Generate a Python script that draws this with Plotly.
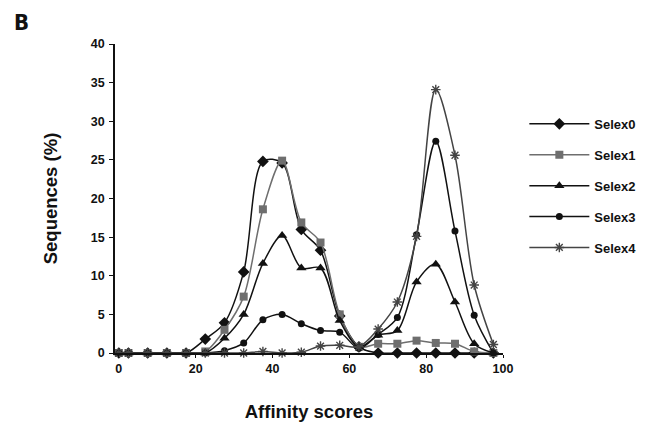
import plotly.graph_objects as go

scores = [0, 2.5, 7.5, 12.5, 17.5, 22.5, 27.5, 32.5, 37.5, 42.5, 47.5, 52.5, 57.5, 62.5, 67.5, 72.5, 77.5, 82.5, 87.5, 92.5, 97.5]
selex0 = [0, 0, 0, 0, 0, 1.8, 3.9, 10.5, 24.8, 24.6, 16.0, 13.3, 4.8, 0.8, 0, 0, 0, 0, 0, 0, 0]
selex1 = [0, 0, 0, 0, 0, 0.2, 3.0, 7.3, 18.6, 24.9, 16.9, 14.3, 5.0, 0.8, 1.2, 1.2, 1.6, 1.3, 1.2, 0.2, 0]
selex2 = [0, 0, 0, 0, 0, 0, 1.9, 5.0, 11.6, 15.2, 11.0, 11.0, 4.2, 0.8, 2.3, 2.9, 9.2, 11.5, 6.6, 1.2, 0]
selex3 = [0, 0, 0, 0, 0, 0, 0.3, 1.3, 4.3, 5.0, 3.8, 2.9, 2.7, 0.6, 2.4, 4.6, 15.3, 27.4, 15.8, 4.9, 0]
selex4 = [0, 0, 0, 0, 0, 0, 0, 0, 0.2, 0, 0.1, 0.9, 1.0, 0.8, 3.1, 6.6, 15.1, 34.1, 25.6, 8.8, 1.1]

x_ticks = [0, 20, 40, 60, 80, 100]
y_ticks = [0, 5, 10, 15, 20, 25, 30, 35, 40]

names = ["Selex0", "Selex1", "Selex2", "Selex3", "Selex4"]
series = [selex0, selex1, selex2, selex3, selex4]
symbols = ["diamond", "square", "triangle-up", "circle", "asterisk-open"]
sizes = [9, 8, 9, 7, 8]
colors = ["#111111", "#6e6e6e", "#111111", "#111111", "#444444"]

FONT = "Liberation Sans, Arial, Helvetica, sans-serif"

fig = go.Figure()
for i, (n, s) in enumerate(zip(names, series)):
    fig.add_trace(go.Scatter(
        x=scores, y=s, name="<b>" + n + "</b>", mode="lines+markers",
        line=dict(color=colors[i], width=1.5, shape="spline", smoothing=0.9),
        marker=dict(symbol=symbols[i], size=sizes[i], color=colors[i],
                    line=dict(color=colors[i], width=1.4 if i == 4 else 0)),
        cliponaxis=False, legendgroup=n,
    ))

fig.update_layout(
    width=646, height=423,
    margin=dict(l=115, r=143, t=44, b=70, autoexpand=False),
    plot_bgcolor="white", paper_bgcolor="white",
    font=dict(family=FONT, size=12, color="#111111"),
    showlegend=True,
    legend=dict(x=1.055, y=0.79, xanchor="left", yanchor="top",
                font=dict(family=FONT, size=13, color="#111111"),
                tracegroupgap=11, itemwidth=60, bgcolor="rgba(0,0,0,0)"),
    xaxis=dict(range=[-1, 100], tickvals=x_ticks, ticktext=["<b>%d</b>" % v for v in x_ticks],
               showgrid=False, zeroline=False, automargin=False,
               showline=True, linecolor="#111111", linewidth=1.5, ticks="outside", ticklen=3,
               tickcolor="#111111", tickfont=dict(family=FONT, size=12.5),
               title=dict(text="<b>Affinity scores</b>", standoff=30,
                          font=dict(family=FONT, size=18.5))),
    yaxis=dict(range=[0, 40], tickvals=y_ticks, ticktext=["<b>%d</b>" % v for v in y_ticks],
               showgrid=False, zeroline=False, automargin=False,
               showline=True, linecolor="#111111", linewidth=1.5, ticks="outside", ticklen=4,
               tickcolor="#111111", tickfont=dict(family=FONT, size=12.5), ticklabelstandoff=2,
               title=dict(text="<b>Sequences (%)</b>", standoff=28,
                          font=dict(family=FONT, size=18.5))),
    annotations=[dict(text="<b>B</b>", x=-103 / 388, y=1 + 36 / 309, xref="paper", yref="paper",
                      showarrow=False, xanchor="left", yanchor="top",
                      font=dict(family="Liberation Sans Narrow, DejaVu Sans Condensed, sans-serif",
                                size=22, color="#111111"))],
)

fig.write_html("out.html", config={"displayModeBar": False},
               post_script="document.body.style.margin='0';document.body.style.padding='0';")
